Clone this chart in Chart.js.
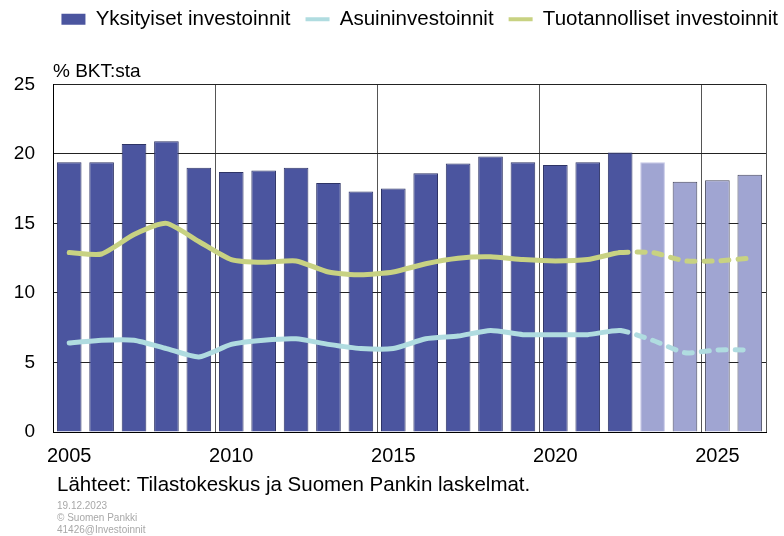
<!DOCTYPE html>
<html>
<head>
<meta charset="utf-8">
<script src="https://cdn.jsdelivr.net/npm/chart.js@4.4.0/dist/chart.umd.min.js"></script>
<style>
  html, body { margin: 0; padding: 0; background: #ffffff; }
  #wrap { width: 784px; height: 536px; position: relative; }
  canvas { display: block; }
</style>
</head>
<body>
<div id="wrap"><canvas id="c" width="784" height="536"></canvas></div>
<script>
// ---- Data ----
const years = ['2005','2006','2007','2008','2009','2010','2011','2012','2013','2014','2015',
               '2016','2017','2018','2019','2020','2021','2022','2023','2024','2025','2026'];
const yksityiset = [19.4, 19.4, 20.7, 20.9, 19.0, 18.7, 18.8, 19.0, 17.9, 17.3, 17.5,
                    18.6, 19.3, 19.8, 19.4, 19.2, 19.4, 20.1, 19.4, 18.0, 18.1, 18.5];
const asuin = [6.4, 6.6, 6.6, 6.0, 5.4, 6.3, 6.6, 6.7, 6.3, 6.0, 6.0,
               6.7, 6.9, 7.3, 7.0, 7.0, 7.0, 7.3, 6.6, 5.7, 5.9, 5.9];
const tuotannolliset = [12.9, 12.8, 14.2, 15.0, 13.7, 12.4, 12.2, 12.3, 11.5, 11.3, 11.5,
                        12.1, 12.5, 12.6, 12.4, 12.3, 12.4, 12.9, 12.9, 12.3, 12.3, 12.5];
const firstForecastYear = '2023';
const labeledYears = ['2005', '2010', '2015', '2020', '2025'];
const seriesNames = ['Yksityiset investoinnit', 'Asuininvestoinnit', 'Tuotannolliset investoinnit'];
const unitLabel = '% BKT:sta';
const sourceText = 'Lähteet: Tilastokeskus ja Suomen Pankin laskelmat.';
const footerLines = ['19.12.2023', '© Suomen Pankki', '41426@Investoinnit'];

// ---- Styles ----
const FONT = '"Liberation Sans", Arial, sans-serif';
const DARK_BAR = '#4b559f';
const LIGHT_BAR = '#a0a5d2';
const BLUE = '#b0dce0';
const GREEN = '#c8d282';
const fcIdx = years.indexOf(firstForecastYear);

const footerPlugin = {
  id: 'footerText',
  afterDraw(chart) {
    const ctx = chart.ctx;
    ctx.save();
    ctx.textAlign = 'left';
    ctx.textBaseline = 'alphabetic';
    ctx.fillStyle = '#000';
    ctx.font = '20.5px ' + FONT;
    ctx.fillText(sourceText, 57, 491);
    ctx.fillStyle = '#a8a8a8';
    ctx.font = '10px ' + FONT;
    footerLines.forEach((t, i) => ctx.fillText(t, 57, 509 + i * 12));
    ctx.restore();
  }
};

new Chart(document.getElementById('c'), {
  data: {
    labels: years,
    datasets: [
      {
        type: 'bar',
        label: seriesNames[0],
        data: yksityiset,
        backgroundColor: years.map((y, i) => i < fcIdx ? DARK_BAR : LIGHT_BAR),
        borderColor: years.map((y, i) => i < fcIdx ? '#2e3466' : (i === fcIdx ? '#c4c7e6' : '#45475e')),
        borderWidth: 1,
        barPercentage: 0.76,
        categoryPercentage: 1.0,
        order: 2
      },
      {
        type: 'line',
        label: seriesNames[1],
        data: asuin,
        borderColor: BLUE,
        backgroundColor: BLUE,
        borderWidth: 5,
        pointRadius: 0,
        tension: 0.2,
        fill: false,
        borderCapStyle: 'round',
        segment: { borderDash: ctx => ctx.p0DataIndex >= fcIdx - 1 ? [8, 9] : undefined },
        order: 1
      },
      {
        type: 'line',
        label: seriesNames[2],
        data: tuotannolliset,
        borderColor: GREEN,
        backgroundColor: GREEN,
        borderWidth: 5,
        pointRadius: 0,
        tension: 0.2,
        fill: false,
        borderCapStyle: 'round',
        segment: { borderDash: ctx => ctx.p0DataIndex >= fcIdx - 1 ? [8, 9] : undefined },
        order: 1
      }
    ]
  },
  options: {
    responsive: false,
    animation: false,
    devicePixelRatio: 1,
    layout: { padding: { left: 0, right: -9, top: -6, bottom: 68 } },
    plugins: {
      tooltip: { enabled: false },
      legend: {
        display: true,
        position: 'top',
        align: 'end',
        labels: {
          usePointStyle: true,
          pointStyleWidth: 24,
          boxHeight: 11,
          padding: 15,
          color: '#000',
          font: { size: 20.5, family: FONT },
          generateLabels: () => [
            { text: seriesNames[0], fillStyle: DARK_BAR, strokeStyle: DARK_BAR, lineWidth: 0, pointStyle: 'rect', datasetIndex: 0, hidden: false },
            { text: seriesNames[1], fillStyle: BLUE, strokeStyle: BLUE, lineWidth: 4, pointStyle: 'line', datasetIndex: 1, hidden: false },
            { text: seriesNames[2], fillStyle: GREEN, strokeStyle: GREEN, lineWidth: 4, pointStyle: 'line', datasetIndex: 2, hidden: false }
          ]
        }
      },
      title: {
        display: true,
        text: unitLabel,
        align: 'start',
        fullSize: false,
        weight: 500,
        color: '#000',
        font: { size: 19, family: FONT, weight: 'normal' },
        padding: { top: 21, bottom: 1 }
      }
    },
    scales: {
      x: {
        offset: true,
        grid: {
          offset: true,
          drawTicks: false,
          lineWidth: 1,
          color: ctx => (ctx.index === undefined || (ctx.index > 0 && ctx.index % 5 === 0)) ? '#555' : 'rgba(0,0,0,0)'
        },
        border: { display: true, color: '#000', width: 1 },
        ticks: {
          autoSkip: false,
          maxRotation: 0,
          padding: 12,
          color: '#000',
          font: { size: 20, family: FONT },
          callback: function (v, i) { const y = years[i]; return labeledYears.includes(y) ? y : ''; }
        },
        afterFit: s => { s.height = 36; }
      },
      y: {
        min: 0,
        max: 25,
        grid: { drawTicks: false, color: '#222', lineWidth: 1 },
        border: { display: true, color: '#000', width: 1 },
        ticks: {
          stepSize: 5,
          padding: 18,
          color: '#000',
          font: { size: 19, family: FONT }
        },
        afterFit: s => { s.width = 53; }
      },
      yRight: {
        position: 'right',
        display: true,
        min: 0,
        max: 25,
        grid: { display: false, drawTicks: false },
        border: { display: false },
        ticks: { display: false },
        afterFit: s => { s.width = 27; }
      }
    }
  },
  plugins: [footerPlugin]
});
</script>
</body>
</html>
